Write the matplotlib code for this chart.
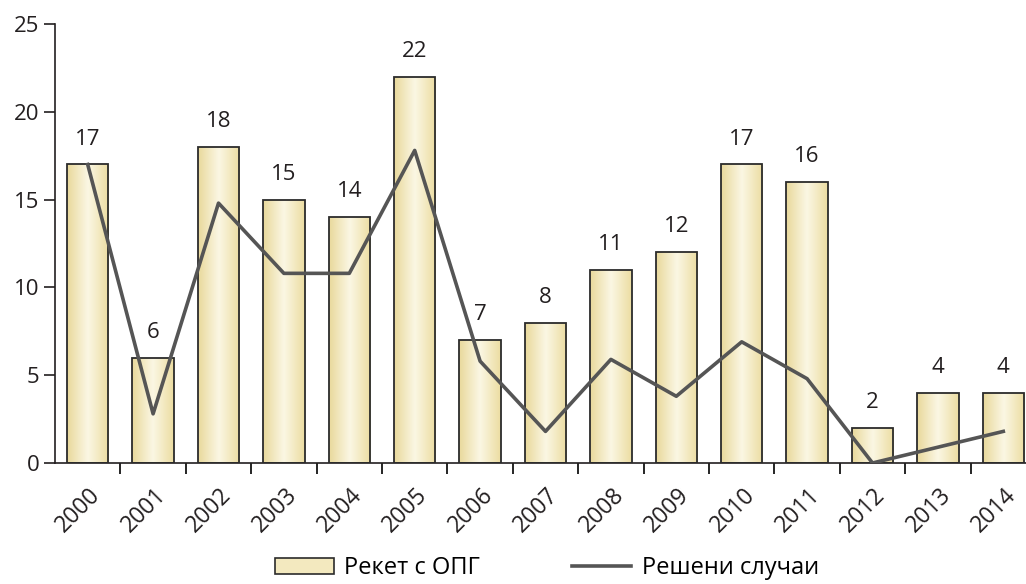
# Bar chart with a line: racketeering cases vs solved cases, 2000-2014.
import matplotlib.pyplot as plt
import matplotlib.transforms as mtransforms
import numpy as np
from matplotlib.colors import LinearSegmentedColormap
from matplotlib.patches import Patch
from matplotlib.lines import Line2D

# Data.
years = ['2000', '2001', '2002', '2003', '2004', '2005', '2006', '2007',
         '2008', '2009', '2010', '2011', '2012', '2013', '2014']
racket = [17, 6, 18, 15, 14, 22, 7, 8, 11, 12, 17, 16, 2, 4, 4]
solved = [17, 2.8, 14.8, 10.8, 10.8, 17.8, 5.8, 1.8, 5.9, 3.8, 6.9, 4.8, 0, 0.9, 1.8]

plt.rcParams['font.family'] = ['Open Sans', 'DejaVu Sans']

fig = plt.figure(figsize=(10.26, 5.84), dpi=100)
ax = fig.add_axes([55 / 1026, 121 / 584, 981 / 1026, 439 / 584])

x = np.arange(len(years))

# Bars with a light cream gradient (lighter in the middle).
cmap = LinearSegmentedColormap.from_list('cream', ['#e9d99c', '#fbf7e4', '#ecdda2'])
grad = np.linspace(0, 1, 64).reshape(1, -1)
bars = ax.bar(x, racket, width=0.63, facecolor='none', edgecolor='#2b2b2b',
              linewidth=1.3, zorder=3)
for b in bars:
    x0, w, h = b.get_x(), b.get_width(), b.get_height()
    im = ax.imshow(grad, cmap=cmap, aspect='auto', extent=[x0, x0 + w, 0, h],
                   zorder=2, interpolation='bicubic')
    im.set_clip_path(b)

# Value labels above the bars.
for xi, v in zip(x, racket):
    ax.text(xi, v + 0.85, str(v), ha='center', va='bottom', fontsize=16, color='#231f20')

# Line of solved cases.
ax.plot(x, solved, color='#555555', linewidth=2.6, zorder=4)

ax.set_xlim(-0.5, 14.5)
ax.set_ylim(0, 25)
ax.set_yticks([0, 5, 10, 15, 20, 25])
ax.tick_params(axis='y', labelsize=16, length=8, width=1.2, colors='#231f20', pad=3)

# Major ticks between categories, labels on minor ticks.
ax.set_xticks(x[:-1] + 0.5)
ax.set_xticklabels([])
ax.set_xticks(x, minor=True)
ax.set_xticklabels(years, minor=True, rotation=45, ha='right', rotation_mode='anchor',
                   fontsize=16.5, color='#231f20')
ax.tick_params(axis='x', which='major', length=8, width=1.2, direction='out')
ax.tick_params(axis='x', which='minor', length=0, pad=4)
shift = mtransforms.ScaledTranslation(0.01, -0.15, fig.dpi_scale_trans)
for lbl in ax.get_xticklabels(minor=True):
    lbl.set_transform(lbl.get_transform() + shift)

for s in ['top', 'right']:
    ax.spines[s].set_visible(False)
ax.spines['left'].set_linewidth(1.2)
ax.spines['bottom'].set_linewidth(1.2)
ax.spines['left'].set_color('#231f20')
ax.spines['bottom'].set_color('#231f20')

# Legend below the chart.
handles = [Patch(facecolor='#f3e9bf', edgecolor='#2b2b2b', linewidth=1.2),
           Line2D([0], [0], color='#555555', linewidth=2.6)]
fig.legend(handles, ['Рекет с ОПГ', 'Решени случаи'], loc='lower center',
           bbox_to_anchor=(0.533, -0.03), ncol=2, frameon=False, fontsize=17,
           handlelength=2.5, columnspacing=3.9, handletextpad=0.45)

plt.savefig('out.png', dpi=100)
